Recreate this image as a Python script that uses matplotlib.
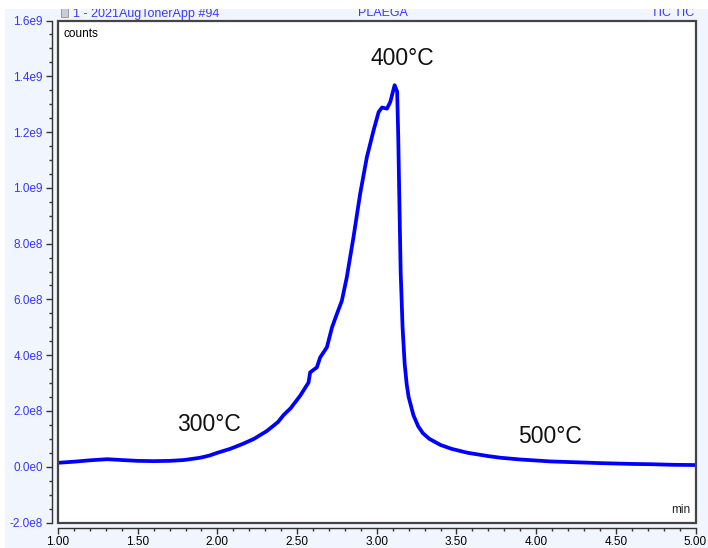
import matplotlib
matplotlib.use("Agg")
import matplotlib.pyplot as plt
from matplotlib.patches import Rectangle
from matplotlib.ticker import MultipleLocator

plt.rcParams['font.family'] = ['Liberation Sans', 'DejaVu Sans']

# ---- data ----
time_min = [1.00, 1.10, 1.20, 1.31, 1.40, 1.50, 1.60, 1.70, 1.79, 1.89,
            1.95, 2.00, 2.08, 2.16, 2.23, 2.31, 2.38, 2.415, 2.46, 2.52, 2.572,
            2.582, 2.60, 2.624, 2.645, 2.687, 2.719, 2.75, 2.781, 2.812, 2.854,
            2.896, 2.938, 2.98, 3.012, 3.033, 3.064, 3.085, 3.112, 3.128, 3.135,
            3.142, 3.150, 3.162, 3.175, 3.188, 3.20, 3.23, 3.26, 3.29, 3.33,
            3.40, 3.47, 3.57, 3.70, 3.78, 3.90, 4.09, 4.30, 4.40, 4.60, 4.72, 4.85, 5.00]
counts = [0.14e8, 0.18e8, 0.23e8, 0.27e8, 0.24e8, 0.21e8, 0.20e8, 0.21e8, 0.24e8, 0.32e8,
          0.40e8, 0.50e8, 0.64e8, 0.82e8, 1.00e8, 1.28e8, 1.60e8, 1.85e8, 2.10e8, 2.55e8, 3.02e8,
          3.38e8, 3.46e8, 3.56e8, 3.92e8, 4.28e8, 4.99e8, 5.48e8, 5.95e8, 6.79e8, 8.23e8,
          9.79e8, 11.10e8, 12.06e8, 12.72e8, 12.88e8, 12.84e8, 13.08e8, 13.68e8, 13.45e8, 11.8e8,
          9.5e8, 7.0e8, 5.0e8, 3.7e8, 2.95e8, 2.5e8, 1.85e8, 1.45e8, 1.20e8, 1.00e8,
          0.78e8, 0.64e8, 0.50e8, 0.38e8, 0.32e8, 0.26e8, 0.19e8, 0.15e8, 0.13e8, 0.10e8, 0.09e8, 0.07e8, 0.06e8]

ytick_values = [-2e8, 0, 2e8, 4e8, 6e8, 8e8, 1.0e9, 1.2e9, 1.4e9, 1.6e9]
ytick_labels = ["-2.0e8", "0.0e0", "2.0e8", "4.0e8", "6.0e8", "8.0e8",
                "1.0e9", "1.2e9", "1.4e9", "1.6e9"]
xtick_values = [1.0, 1.5, 2.0, 2.5, 3.0, 3.5, 4.0, 4.5, 5.0]
xtick_labels = ["1.00", "1.50", "2.00", "2.50", "3.00", "3.50", "4.00", "4.50", "5.00"]

annot_text = ["300°C", "400°C", "500°C"]
annot_x = [1.948, 3.163, 4.088]
annot_y = [1.53e8, 14.62e8, 1.08e8]

header_left = "1 - 2021AugTonerApp #94"
header_mid = "PLAEGA"
header_right = "TIC TIC"

# ---- figure ----
W, H = 708, 548
fig = plt.figure(figsize=(W / 100, H / 100), dpi=100, facecolor='white')

# pale panel background
fig.patches.append(Rectangle((5 / W, 0), 1 - 5 / W, 1 - 9 / H, transform=fig.transFigure,
                             facecolor='#f1f5fd', edgecolor='none', zorder=-10))

ax = fig.add_axes([58 / W, 1 - 522.5 / H, (695.5 - 58) / W, (522.5 - 20.5) / H])
ax.set_zorder(1)
ax.set_facecolor('white')

ax.plot(time_min, counts, color='#0000ff', lw=2.7, solid_joinstyle='round',
        solid_capstyle='round', zorder=3)

ax.set_xlim(1.0, 5.0)
ax.set_ylim(-2e8, 1.6e9)

ax.set_yticks(ytick_values)
ax.set_yticklabels(ytick_labels)
ax.set_xticks(xtick_values)
ax.set_xticklabels(xtick_labels)
ax.yaxis.set_minor_locator(MultipleLocator(5e7))
ax.xaxis.set_minor_locator(MultipleLocator(0.1))

ax.tick_params(axis='y', which='major', direction='out', length=4, width=1,
               colors='#333333', labelcolor='#3535ff', labelsize=8.5, pad=2.5)
ax.tick_params(axis='y', which='minor', direction='out', length=2.5, width=1, colors='#333333')
ax.tick_params(axis='x', which='major', direction='out', length=4, width=1,
               colors='#333333', labelcolor='black', labelsize=8.5, pad=1.5)
ax.tick_params(axis='x', which='minor', direction='out', length=2.5, width=1, colors='#333333')

for s in ('top', 'right'):
    ax.spines[s].set_visible(False)
ax.spines['left'].set_position(('outward', 4.5))
ax.spines['bottom'].set_position(('outward', 4.0))
for s in ('left', 'bottom'):
    ax.spines[s].set_color('#333333')
    ax.spines[s].set_linewidth(1.0)

# plot frame
ax.add_patch(Rectangle((0, 0), 1, 1, transform=ax.transAxes, fill=False,
                       edgecolor='#444444', lw=1.6, clip_on=False, zorder=5))

ax.text(0.008, 0.985, "counts", transform=ax.transAxes, ha='left', va='top',
        fontsize=8.5, color='black')
ax.text(0.992, 0.012, "min", transform=ax.transAxes, ha='right', va='bottom',
        fontsize=8.5, color='#222222')

for txt, xx, yy in zip(annot_text, annot_x, annot_y):
    ax.text(xx, yy, txt, ha='center', va='center', fontsize=16.5, color='#111111')

# header (clipped at the top by the white band)
base_y = 1 - 16.5 / H
fig.patches.append(Rectangle((61 / W, 1 - 17 / H), 7 / W, 9 / H, transform=fig.transFigure,
                             facecolor='#c8ccd4', edgecolor='#8a8f99', lw=0.6, zorder=1))
fig.text(73 / W, base_y, header_left, ha='left', va='baseline', fontsize=9, color='#3a3aff', zorder=2)
fig.text(383 / W, base_y, header_mid, ha='center', va='baseline', fontsize=9, color='#3a3aff', zorder=2)
fig.text(694 / W, base_y, header_right, ha='right', va='baseline', fontsize=9, color='#3a3aff', zorder=2)
fig.patches.append(Rectangle((0, 1 - 9 / H), 1, 9 / H, transform=fig.transFigure,
                             facecolor='white', edgecolor='none', zorder=20))

fig.savefig("out.png", dpi=100, facecolor=fig.get_facecolor())
